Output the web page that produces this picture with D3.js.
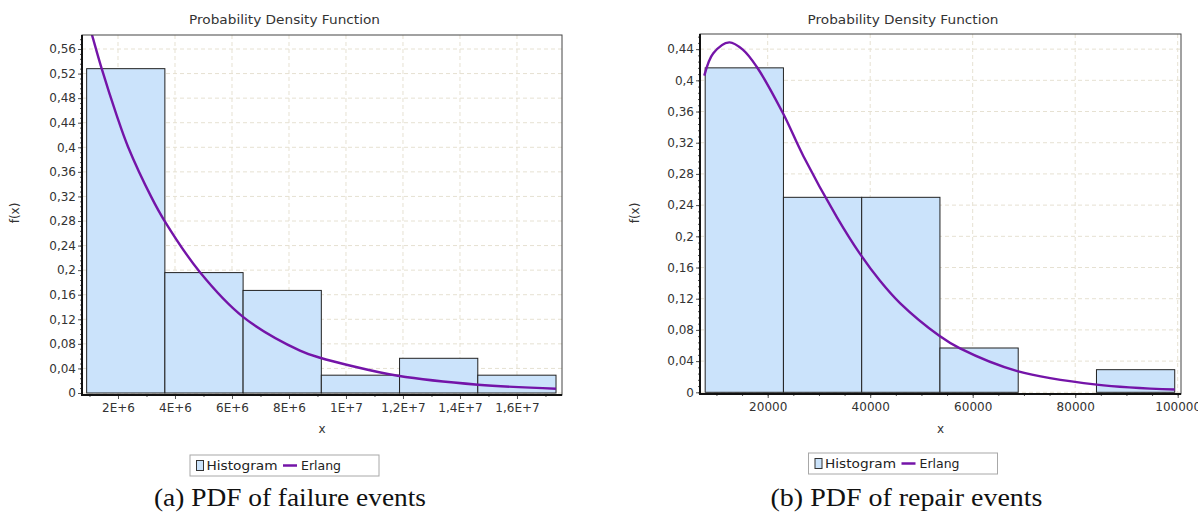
<!DOCTYPE html>
<html>
<head>
<meta charset="utf-8">
<script src="https://cdn.jsdelivr.net/npm/d3@7"></script>
<style>
body { margin: 0; background: #fff; }
svg { display: block; }
</style>
</head>
<body>
<svg id="chart" width="1198" height="531"></svg>
<script>
// (a) failure events: histogram bins + fitted Erlang curve
const failEdges = [0.9e6, 3.645e6, 6.39e6, 9.135e6, 11.88e6, 14.625e6, 17.37e6];
const failFreq = [0.528, 0.196, 0.167, 0.029, 0.0565, 0.029];
const failCurveX = [0.9e6, 1.088e6, 1.428e6, 1.954e6, 2.351e6, 3.18e6, 3.61e6, 4.877e6, 6.386e6, 8.386e6, 9.12e6, 10.02e6, 11.82e6, 14.63e6, 17.37e6];
const failCurveY = [0.613, 0.583, 0.528, 0.452, 0.401, 0.318, 0.282, 0.1965, 0.124, 0.069, 0.057, 0.046, 0.028, 0.0135, 0.007];
const failXTicks = [2e6, 4e6, 6e6, 8e6, 1e7, 1.2e7, 1.4e7, 1.6e7];
const failXLabels = ["2E+6", "4E+6", "6E+6", "8E+6", "1E+7", "1,2E+7", "1,4E+7", "1,6E+7"];
const failYTicks = [0, 0.04, 0.08, 0.12, 0.16, 0.2, 0.24, 0.28, 0.32, 0.36, 0.4, 0.44, 0.48, 0.52, 0.56];

// (b) repair events
const repairEdges = [7800, 23070, 38340, 53610, 68880, 84150, 99420];
const repairFreq = [0.416, 0.25, 0.25, 0.0568, 0, 0.029];
const repairCurveX = [7629, 9385, 12507, 15239, 17854, 22985, 26946, 33463, 38010, 41912, 45815, 53483, 57522, 68703, 84195, 99414];
const repairCurveY = [0.406, 0.4346, 0.4487, 0.4388, 0.4174, 0.3577, 0.303, 0.225, 0.1775, 0.143, 0.1144, 0.0725, 0.0563, 0.0272, 0.0099, 0.0035];
const repairXTicks = [20000, 40000, 60000, 80000, 100000];
const repairXLabels = ["20000", "40000", "60000", "80000", "100000"];
const repairYTicks = [0, 0.04, 0.08, 0.12, 0.16, 0.2, 0.24, 0.28, 0.32, 0.36, 0.4, 0.44];

const seriesNames = ["Histogram", "Erlang"];
const captions = ["(a) PDF of failure events", "(b) PDF of repair events"];

const barFill = "#cbe3fb";
const curveColor = "#7414a8";
const gridColor = "#e6e1d2";
const font = "DejaVu Sans, Verdana, sans-serif";

const commaFmt = d => d3.format(".2~f")(d).replace(".", ",");

const svg = d3.select("#chart");

function panel(cfg) {
    const g = svg.append("g");
    const x = d3.scaleLinear().domain(cfg.xDomain).range([cfg.left, cfg.right]);
    const y = d3.scaleLinear().domain(cfg.yDomain).range([cfg.zeroY, cfg.top]);
    const clipId = "clip" + cfg.id;

    svg.append("clipPath").attr("id", clipId).append("rect")
        .attr("x", cfg.left).attr("y", cfg.top)
        .attr("width", cfg.right - cfg.left).attr("height", cfg.bottom - cfg.top);

    g.append("rect").attr("x", cfg.left).attr("y", cfg.top)
        .attr("width", cfg.right - cfg.left).attr("height", cfg.bottom - cfg.top)
        .attr("fill", "#fff");

    // dashed grid
    g.append("g").selectAll("line").data(cfg.xTicks).join("line")
        .attr("x1", d => x(d)).attr("x2", d => x(d))
        .attr("y1", cfg.top).attr("y2", cfg.bottom)
        .attr("stroke", gridColor).attr("stroke-dasharray", "4,3");
    g.append("g").selectAll("line").data(cfg.yTicks).join("line")
        .attr("x1", cfg.left).attr("x2", cfg.right)
        .attr("y1", d => y(d)).attr("y2", d => y(d))
        .attr("stroke", gridColor).attr("stroke-dasharray", "4,3");

    // histogram bars
    const bins = cfg.freq.map((f, i) => ({x0: cfg.edges[i], x1: cfg.edges[i + 1], f}));
    g.append("g").attr("clip-path", `url(#${clipId})`)
        .selectAll("rect").data(bins).join("rect")
        .attr("x", d => x(d.x0)).attr("width", d => x(d.x1) - x(d.x0))
        .attr("y", d => y(d.f)).attr("height", d => y(0) - y(d.f))
        .attr("fill", barFill).attr("stroke", "#222").attr("stroke-width", 1);

    // fitted curve
    const pts = cfg.curveX.map((v, i) => [v, cfg.curveY[i]]);
    g.append("path").datum(pts)
        .attr("clip-path", `url(#${clipId})`)
        .attr("fill", "none").attr("stroke", curveColor).attr("stroke-width", 2.4)
        .attr("d", d3.line().x(d => x(d[0])).y(d => y(d[1])).curve(d3.curveCatmullRom.alpha(0.5)));

    // outline
    g.append("rect").attr("x", cfg.left).attr("y", cfg.top)
        .attr("width", cfg.right - cfg.left).attr("height", cfg.bottom - cfg.top)
        .attr("fill", "none").attr("stroke", "#444");

    // axes
    const yMinor = d3.range(0, cfg.yDomain[1], 0.008);
    const xMinor = d3.range(cfg.xMinorStep, cfg.xDomain[1], cfg.xMinorStep).filter(v => v > cfg.xDomain[0]);
    g.append("g").attr("transform", `translate(${cfg.left},0)`)
        .call(d3.axisLeft(y).tickValues(cfg.yTicks).tickFormat(commaFmt).tickSize(4).tickPadding(2));
    g.append("g").attr("transform", `translate(${cfg.left},0)`)
        .call(d3.axisLeft(y).tickValues(yMinor).tickFormat("").tickSize(2));
    g.append("g").attr("transform", `translate(0,${cfg.bottom})`)
        .call(d3.axisBottom(x).tickValues(cfg.xTicks).tickFormat((d, i) => cfg.xLabels[i]).tickSize(4).tickPadding(4));
    g.append("g").attr("transform", `translate(0,${cfg.bottom})`)
        .call(d3.axisBottom(x).tickValues(xMinor).tickFormat("").tickSize(2));
    g.selectAll(".domain").remove();
    g.selectAll(".tick line").attr("stroke", "#555");
    g.selectAll(".tick text").attr("fill", "#333").style("font-family", font).style("font-size", "12px");

    g.append("line").attr("x1", cfg.left).attr("x2", cfg.left).attr("y1", cfg.top).attr("y2", cfg.bottom + 1)
        .attr("stroke", "#111").attr("stroke-width", 2);
    g.append("line").attr("x1", cfg.left - 1).attr("x2", cfg.right).attr("y1", cfg.bottom).attr("y2", cfg.bottom)
        .attr("stroke", "#111").attr("stroke-width", 2);

    // titles
    g.append("text").attr("x", cfg.cx).attr("y", 24).attr("text-anchor", "middle")
        .attr("textLength", 191).attr("lengthAdjust", "spacingAndGlyphs")
        .style("font-family", font).style("font-size", "12.5px").attr("fill", "#333")
        .text("Probability Density Function");
    g.append("text").attr("x", (cfg.left + cfg.right) / 2).attr("y", 433).attr("text-anchor", "middle")
        .style("font-family", font).style("font-size", "12px").attr("fill", "#333").text("x");
    g.append("text").attr("transform", `translate(${cfg.yLabelX},213) rotate(-90)`).attr("text-anchor", "middle")
        .style("font-family", font).style("font-size", "12px").attr("fill", "#333").text("f(x)");

    // legend
    const lg = g.append("g").attr("transform", `translate(${cfg.cx - 94.5},${cfg.legendY})`);
    lg.append("rect").attr("width", 189).attr("height", 21).attr("fill", "#fff").attr("stroke", "#a8a8a8");
    lg.append("rect").attr("x", 6.5).attr("y", 5.5).attr("width", 7).attr("height", 10)
        .attr("fill", barFill).attr("stroke", "#333");
    lg.append("text").attr("x", 16.5).attr("y", 15).text(seriesNames[0])
        .attr("textLength", 71).attr("lengthAdjust", "spacingAndGlyphs")
        .style("font-family", font).style("font-size", "12.5px").attr("fill", "#222");
    lg.append("line").attr("x1", 93).attr("x2", 107).attr("y1", 10.5).attr("y2", 10.5)
        .attr("stroke", curveColor).attr("stroke-width", 2.5);
    lg.append("text").attr("x", 111).attr("y", 15).text(seriesNames[1])
        .attr("textLength", 40).attr("lengthAdjust", "spacingAndGlyphs")
        .style("font-family", font).style("font-size", "12.5px").attr("fill", "#222");

    // caption
    svg.append("text").attr("x", cfg.capX).attr("y", 506).attr("text-anchor", "middle")
        .attr("textLength", 272).attr("lengthAdjust", "spacingAndGlyphs")
        .style("font-family", "'Liberation Serif', 'Times New Roman', serif").style("font-size", "25px")
        .attr("fill", "#111").text(cfg.caption);
}

panel({
    id: "a", left: 82, right: 562, top: 35, bottom: 395, zeroY: 393,
    xDomain: [0.737e6, 17.58e6], yDomain: [0, 0.5828],
    edges: failEdges, freq: failFreq, curveX: failCurveX, curveY: failCurveY,
    xTicks: failXTicks, xLabels: failXLabels, yTicks: failYTicks, xMinorStep: 1e6,
    cx: 284.5, yLabelX: 19, legendY: 455, capX: 290, caption: captions[0]
});
panel({
    id: "b", left: 700, right: 1181, top: 34, bottom: 394, zeroY: 392.3,
    xDomain: [6790, 100644], yDomain: [0, 0.4594],
    edges: repairEdges, freq: repairFreq, curveX: repairCurveX, curveY: repairCurveY,
    xTicks: repairXTicks, xLabels: repairXLabels, yTicks: repairYTicks, xMinorStep: 5000,
    cx: 903, yLabelX: 639, legendY: 453, capX: 906.5, caption: captions[1]
});
</script>
</body>
</html>
